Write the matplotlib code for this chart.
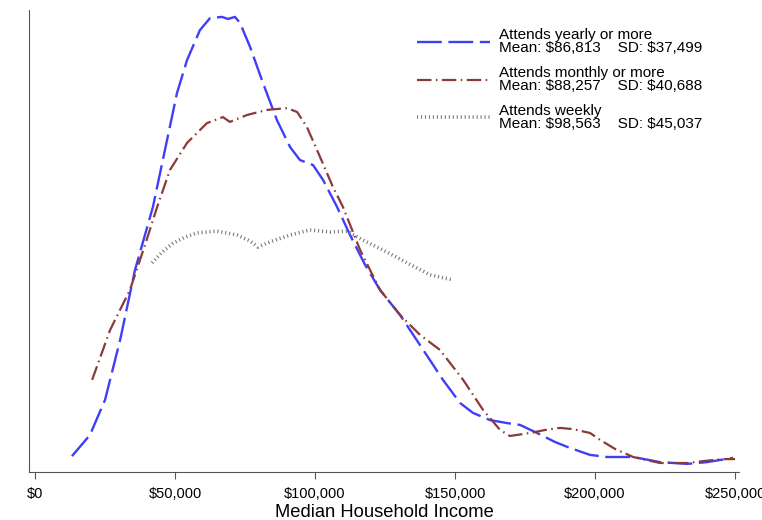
import matplotlib.pyplot as plt
from matplotlib.ticker import FuncFormatter

plt.rcParams['font.family'] = ['Liberation Sans', 'DejaVu Sans']

# density curves, density in units of 1e-6 per dollar
yearly_x = [13200, 19600, 25000, 30400, 35700, 42100, 46400, 50700, 54300, 58900,
            62500, 66800, 68900, 71400, 73200, 76800, 81400, 86400, 91100, 94600,
            99300, 102900, 107900, 112500, 117900, 123200, 130400, 137500, 145700, 151800,
            156400, 162500, 168600, 173200, 179300, 185700, 191100, 198200, 204300, 213600,
            223200, 232900, 240000, 249300]
yearly_y = [0.33, 1.03, 2.2, 4.2, 6.53, 8.63, 10.53, 12.43, 13.53, 14.53,
            14.93, 14.97, 14.9, 14.97, 14.77, 13.97, 12.77, 11.53, 10.63, 10.2,
            10.03, 9.53, 8.63, 7.7, 6.7, 5.87, 5.03, 4.03, 2.87, 2.1,
            1.77, 1.53, 1.43, 1.37, 1.1, 0.8, 0.6, 0.37, 0.3, 0.3,
            0.13, 0.07, 0.13, 0.27]

monthly_x = [20400, 26800, 33900, 39300, 43600, 48200, 54300, 61400, 67100, 69600,
             75700, 82900, 90000, 93600, 97100, 101800, 106400, 110000, 116100, 123200,
             130400, 137500, 144600, 152900, 160000, 166100, 169600, 176800, 182100, 187500,
             192100, 198200, 201800, 207100, 213600, 223200, 232900, 239300, 245700, 250000]
monthly_y = [2.87, 4.53, 5.87, 7.37, 8.63, 9.87, 10.77, 11.43, 11.63, 11.47,
             11.7, 11.87, 11.93, 11.8, 11.3, 10.3, 9.3, 8.63, 7.2, 5.87,
             5.03, 4.37, 3.87, 2.87, 1.87, 1.2, 1.0, 1.1, 1.2, 1.27,
             1.23, 1.1, 0.87, 0.57, 0.3, 0.1, 0.1, 0.17, 0.23, 0.23]

weekly_x = [41800, 45400, 49300, 53600, 57900, 65000, 72100, 76800, 79600, 83900,
            91100, 98200, 105400, 111400, 117100, 124300, 132900, 141100, 149300]
weekly_y = [6.77, 7.13, 7.43, 7.63, 7.77, 7.83, 7.7, 7.5, 7.3, 7.47,
            7.7, 7.87, 7.8, 7.83, 7.53, 7.2, 6.77, 6.37, 6.2]

labels = ["Attends yearly or more\nMean: \\$86,813    SD: \\$37,499",
          "Attends monthly or more\nMean: \\$88,257    SD: \\$40,688",
          "Attends weekly\nMean: \\$98,563    SD: \\$45,037"]

fig = plt.figure(figsize=(7.62, 5.20), dpi=100)
ax = fig.add_axes([29 / 762, 48 / 520, 710 / 762, 462 / 520])

ax.plot(yearly_x, [v * 1e-6 for v in yearly_y], color='#3f3ff7', lw=1.7,
        dashes=(10.5, 2.8), label=labels[0])
ax.plot(monthly_x, [v * 1e-6 for v in monthly_y], color='#8b3a3a', lw=1.6,
        dashes=(6.5, 2, 0.7, 2), label=labels[1])
ax.plot(weekly_x, [v * 1e-6 for v in weekly_y], color='#7a7a7a', lw=2.6,
        dashes=(0.3, 0.8), dash_capstyle='butt', label=labels[2])

ax.set_xlim(-2140, 251400)
ax.set_ylim(-0.2e-6, 15.2e-6)
ax.set_xticks([0, 50000, 100000, 150000, 200000, 250000])
ax.xaxis.set_major_formatter(FuncFormatter(lambda v, p: '${:,.0f}'.format(v)))
ax.set_yticks([])
ax.tick_params(axis='x', labelsize=10.5, length=5, pad=6, color='#555555')
ax.set_xlabel('Median Household Income', fontsize=13.2, labelpad=2)
for s in ['top', 'right']:
    ax.spines[s].set_visible(False)
for s in ['left', 'bottom']:
    ax.spines[s].set_color('#555555')

leg = ax.legend(loc='upper left', bbox_to_anchor=(417 / 762, 1 - 28 / 520),
                bbox_transform=fig.transFigure, frameon=False, borderpad=0,
                borderaxespad=0, fontsize=11, handlelength=4.8, handletextpad=0.55,
                labelspacing=0.72)
for t in leg.get_texts():
    t.set_linespacing(0.9)

fig.savefig('out.png', dpi=100)
